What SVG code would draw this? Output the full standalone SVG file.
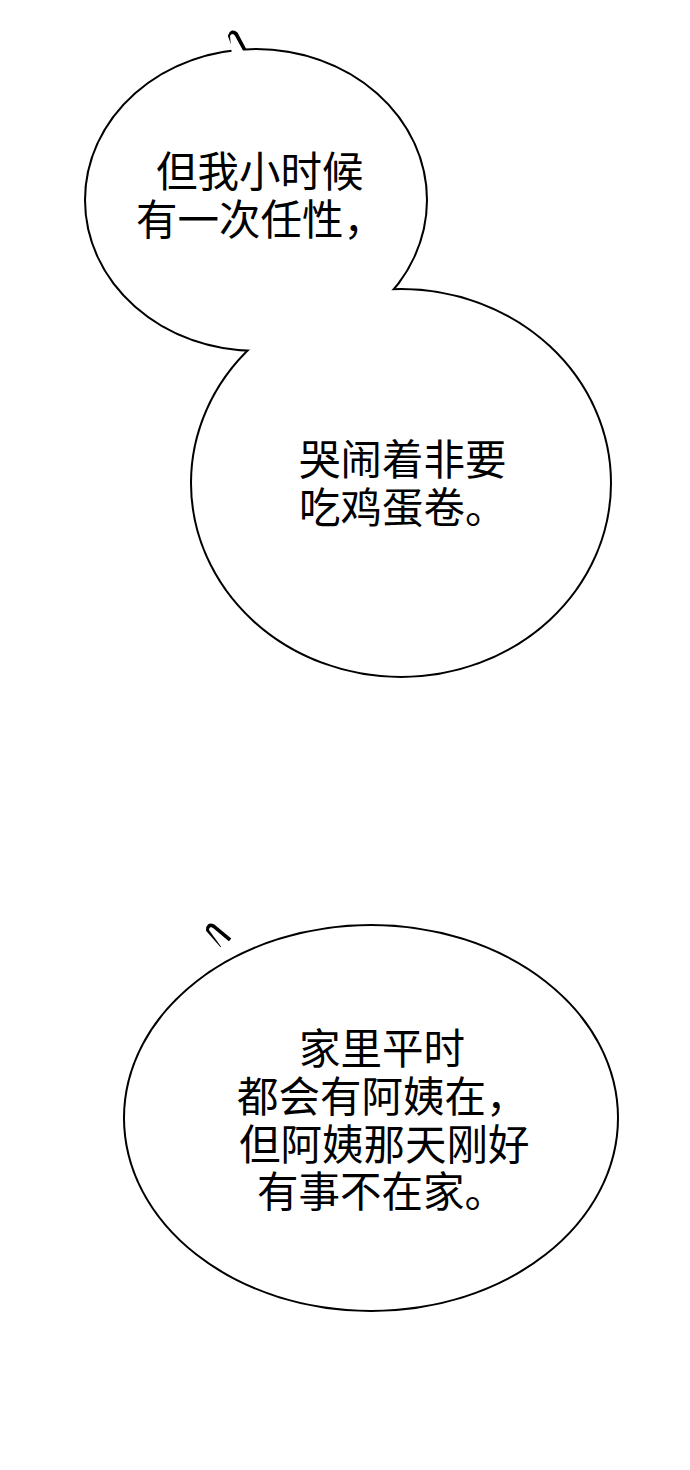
<svg xmlns="http://www.w3.org/2000/svg" width="690" height="1470" viewBox="0 0 690 1470">
<style>
.o{fill:none;stroke:#000;stroke-width:4}
.f{fill:#fff;stroke:none}
.t{font-family:"Noto Sans CJK SC",sans-serif;font-size:41.5px;fill:#000}
</style>
<rect width="690" height="1470" fill="#fff"/>
<g id="bubble1">
<path class="o" d="M236,52 L230,36 Q232,30 236,34 L245,51"/>
<ellipse class="o" cx="256" cy="200" rx="170" ry="150"/>
<ellipse class="o" cx="401" cy="483" rx="209" ry="193"/>
<ellipse class="f" cx="256" cy="200" rx="170" ry="150"/>
<ellipse class="f" cx="401" cy="483" rx="209" ry="193"/>
<path class="f" d="M232,56 L230,36 Q232,32 235,36 L246,56Z"/>
<text class="t" x="156" y="187">但我小时候</text>
<text class="t" x="136" y="235">有一次任性，</text>
<text class="t" x="299" y="475">哭闹着非要</text>
<text class="t" x="299" y="523">吃鸡蛋卷。</text>
</g>
<g id="bubble3">
<path class="o" d="M222,946 L208,930 Q208,924 213,926 L230,940"/>
<ellipse class="o" cx="371" cy="1118" rx="246" ry="192"/>
<ellipse class="f" cx="371" cy="1118" rx="246" ry="192"/>
<path class="f" d="M222,948 L209,930 Q209,926 213,928 L232,944Z"/>
<text class="t" x="299" y="1064">家里平时</text>
<text class="t" x="237" y="1112">都会有阿姨在，</text>
<text class="t" x="239" y="1160">但阿姨那天刚好</text>
<text class="t" x="257" y="1207">有事不在家。</text>
</g>
<g id="connectors"/>
</svg>
